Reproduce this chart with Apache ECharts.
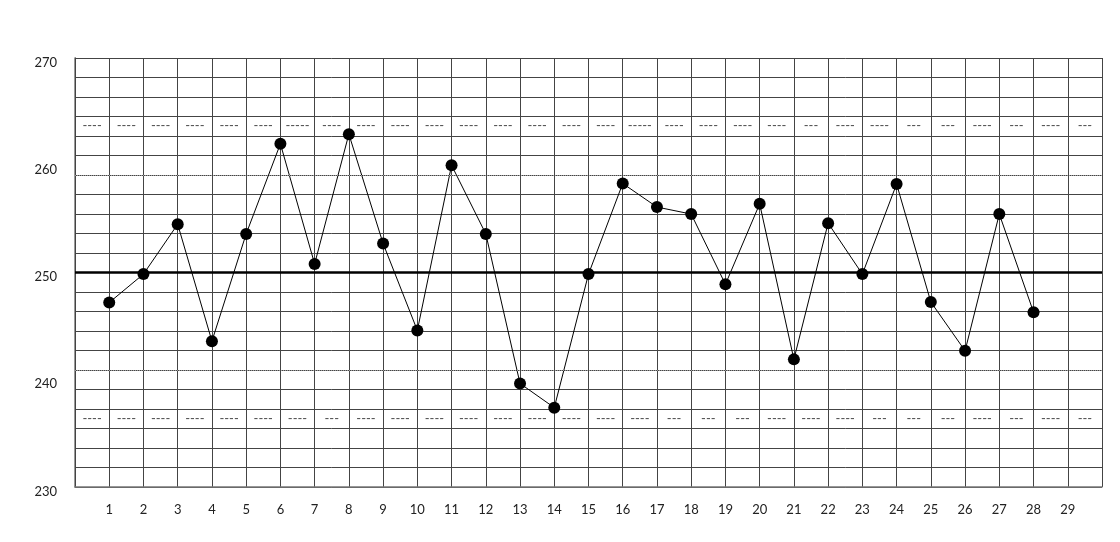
<!DOCTYPE html>
<html>
<head>
<meta charset="utf-8">
<script src="https://cdn.jsdelivr.net/npm/echarts@6/dist/echarts.min.js"></script>
<style>
html,body{margin:0;padding:0;background:#fff;}
#c{width:1120px;height:542px;}
</style>
</head>
<body>
<div id="c"></div>
<script>
// sample numbers 1..28
const samples = [1,2,3,4,5,6,7,8,9,10,11,12,13,14,15,16,17,18,19,20,21,22,23,24,25,26,27,28];
const values = [247.2,249.85,254.5,243.6,253.6,262.0,250.8,262.9,252.7,244.6,260.0,253.6,239.65,237.4,249.85,258.3,256.1,255.45,248.9,256.4,241.9,254.6,249.85,258.25,247.25,242.7,255.45,246.3];
const xTickLabels = ['1','2','3','4','5','6','7','8','9','10','11','12','13','14','15','16','17','18','19','20','21','22','23','24','25','26','27','28','29'];
const yTickLabels = ['230','240','250','260','270'];
const centerLine = 250;
const dottedLines = [259.09, 240.91];
const upperDashRow = 263.64;
const lowerDashRow = 236.36;
const upperDashes = ['----','----','----','----','----','----','-----','----','----','----','----','----','----','----','----','----','-----','----','----','----','----','---','----','----','---','---','----','---','----','---'];
const lowerDashes = ['----','----','----','----','----','----','----','---','----','----','----','----','----','----','----','----','----','---','---','---','----','----','----','---','---','---','----','---','----','---'];

const lineData = samples.map((s, i) => [s, values[i]]);
const upperData = upperDashes.map((t, i) => [i + 0.5, upperDashRow, t]);
const lowerData = lowerDashes.map((t, i) => [i + 0.5, lowerDashRow, t]);

const chart = echarts.init(document.getElementById('c'), null, {renderer: 'canvas'});
const gridColor = '#444';
const dashLabel = {show: true, position: 'inside', formatter: p => p.value[2], color: '#1a1a1a', fontFamily: 'Lato', fontSize: 13};
chart.setOption({
  animation: false,
  backgroundColor: '#fff',
  grid: {left: 75, right: 18, top: 58, bottom: 55, containLabel: false},
  xAxis: {
    type: 'value', min: 0, max: 30, interval: 1,
    axisLine: {show: true, lineStyle: {color: '#777', width: 1.5}},
    axisTick: {show: false},
    splitLine: {show: true, lineStyle: {color: gridColor, width: 1}},
    axisLabel: {
      margin: 16, color: '#222', fontFamily: 'Lato', fontSize: 13,
      formatter: v => (v >= 1 && v <= xTickLabels.length) ? xTickLabels[v - 1] : ''
    }
  },
  yAxis: [
    {
      type: 'value', min: 0, max: 22, interval: 1, position: 'right',
      axisLine: {show: true, lineStyle: {color: '#777', width: 1.5}},
      axisTick: {show: false}, axisLabel: {show: false},
      splitLine: {show: true, lineStyle: {color: gridColor, width: 1}}
    },
    {
      type: 'value', min: 230, max: 270, interval: 10, position: 'left',
      axisLine: {show: true, lineStyle: {color: gridColor}},
      axisTick: {show: false}, splitLine: {show: false},
      axisLabel: {
        margin: 18, color: '#222', fontFamily: 'Lato', fontSize: 13,
        verticalAlign: 'top', lineHeight: 9,
        formatter: v => yTickLabels[Math.round((v - 230) / 10)] || ''
      }
    }
  ],
  series: [
    {type: 'scatter', yAxisIndex: 1, data: upperData, symbolSize: 0, silent: true, label: dashLabel},
    {type: 'scatter', yAxisIndex: 1, data: lowerData, symbolSize: 0, silent: true, label: dashLabel},
    {
      type: 'line', yAxisIndex: 1, data: lineData,
      symbol: 'circle', symbolSize: 12,
      itemStyle: {color: '#000'},
      lineStyle: {color: '#000', width: 1},
      markLine: {
        silent: true, symbol: ['none', 'none'], label: {show: false},
        data: [
          {yAxis: centerLine, lineStyle: {color: '#000', width: 2.5, type: 'solid'}},
          {yAxis: dottedLines[0], lineStyle: {color: '#999', width: 1, type: 'dotted'}},
          {yAxis: dottedLines[1], lineStyle: {color: '#999', width: 1, type: 'dotted'}}
        ]
      }
    }
  ]
});
</script>
</body>
</html>
